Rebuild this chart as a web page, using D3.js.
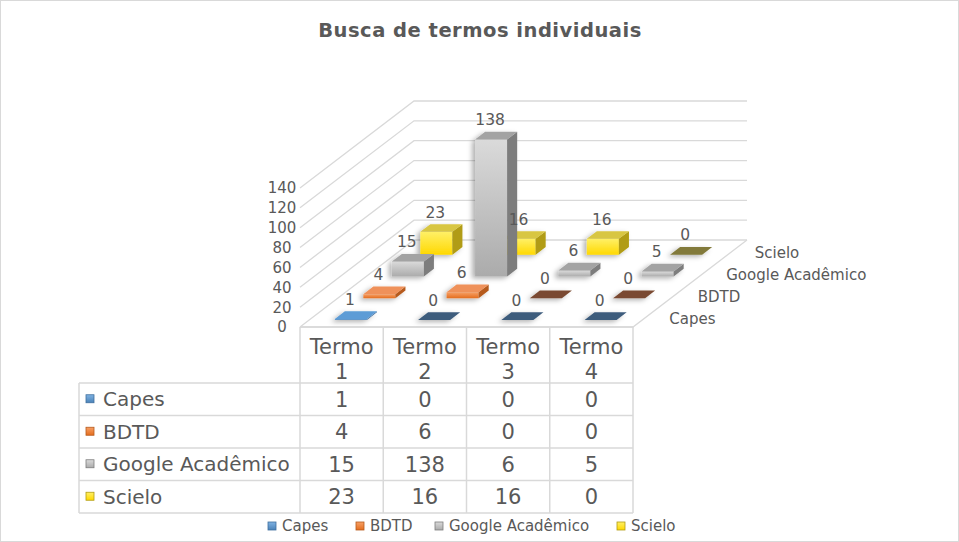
<!DOCTYPE html>
<html>
<head>
<meta charset="utf-8">
<script src="https://cdn.jsdelivr.net/npm/d3@7"></script>
<style>
  html, body { margin: 0; padding: 0; background: #fff; }
  svg { display: block; }
  text { font-family: "DejaVu Sans", Verdana, sans-serif; fill: #595959; }
</style>
</head>
<body>
<div id="chart"></div>
<script>
// ── Data ────────────────────────────────────────────────────────────────────
const categories = ["Termo 1", "Termo 2", "Termo 3", "Termo 4"];
const seriesNames = ["Capes", "BDTD", "Google Acadêmico", "Scielo"];
const capes = [1, 0, 0, 0];
const bdtd = [4, 6, 0, 0];
const google = [15, 138, 6, 5];
const scielo = [23, 16, 16, 0];
const yTicks = [0, 20, 40, 60, 80, 100, 120, 140];

const seriesValues = [capes, bdtd, google, scielo];

// ── Styles per series ───────────────────────────────────────────────────────
const palette = [
  { light: "#7fb2e2", dark: "#4a82b8", top: "#5d9cd6", side: "#3f6f9e", zero: "#3d5b7c" },
  { light: "#f7a066", dark: "#e46d1e", top: "#ef915a", side: "#b65a1c", zero: "#7a4a31" },
  { light: "#dadada", dark: "#ababab", top: "#a3a3a3", side: "#7d7d7d", zero: "#8d8d8d" },
  { light: "#fff066", dark: "#ffd800", top: "#d8c642", side: "#b19c12", zero: "#827a3a" },
];

const W = 959, H = 542;

const svg = d3.select("#chart").append("svg")
  .attr("width", W).attr("height", H);

const defs = svg.append("defs");

// soft outer shadow like the office 3D bars
const shadow = defs.append("filter").attr("id", "shadow")
  .attr("x", "-30%").attr("y", "-30%").attr("width", "160%").attr("height", "160%");
shadow.append("feDropShadow")
  .attr("dx", -3).attr("dy", 2).attr("stdDeviation", 2.5)
  .attr("flood-color", "#000").attr("flood-opacity", 0.3);

palette.forEach((p, i) => {
  const g = defs.append("linearGradient").attr("id", `front${i}`)
    .attr("x1", 0).attr("y1", 0).attr("x2", 0).attr("y2", 1);
  g.append("stop").attr("offset", "0%").attr("stop-color", p.light);
  g.append("stop").attr("offset", "100%").attr("stop-color", p.dark);
});

// outer frame
svg.append("rect")
  .attr("x", 0.5).attr("y", 0.5).attr("width", W - 1).attr("height", H - 1)
  .attr("fill", "#fff").attr("stroke", "#d9d9d9");

// ── Title ───────────────────────────────────────────────────────────────────
svg.append("text")
  .attr("x", 480).attr("y", 37)
  .attr("text-anchor", "middle")
  .attr("font-size", 19.5).attr("font-weight", "bold")
  .attr("letter-spacing", 0.5)
  .text("Busca de termos individuais");

// ── Scales & oblique projection ─────────────────────────────────────────────
const x = d3.scaleBand().domain(categories).range([300, 633]);
const y = d3.scaleLinear().domain([0, 140]).range([327, 188]);
const z = d3.scaleBand().domain(seriesNames).range([0, 1]);
const depth = { dx: 114, dy: -87 };

// screen position of a point at front-plane x, value v, depth t (0..1)
const P = (sx, v, t) => [sx + t * depth.dx, y(v) + t * depth.dy];
const poly = (pts) => pts.map((p) => p.join(",")).join(" ");

const grid = svg.append("g").attr("class", "walls")
  .attr("stroke", "#d9d9d9").attr("stroke-width", 1.3).attr("fill", "none");

// left wall + back wall gridlines
yTicks.forEach((v) => {
  const a = P(300, v, 0), b = P(300, v, 1), c = P(633, v, 1);
  grid.append("polyline").attr("points", poly([a, b, c]));
});
// floor front & right edges
grid.append("polyline").attr("points", poly([P(300, 0, 0), P(633, 0, 0), P(633, 0, 1)]));

// ── Value axis labels ───────────────────────────────────────────────────────
svg.append("g").selectAll("text")
  .data(yTicks)
  .join("text")
  .attr("x", 282)
  .attr("y", (d) => y(d))
  .attr("dy", "0.36em")
  .attr("text-anchor", "middle")
  .attr("font-size", 15)
  .text((d) => d);

// ── Series (depth) labels ───────────────────────────────────────────────────
svg.append("g").selectAll("text")
  .data(seriesNames)
  .join("text")
  .attr("x", (d) => P(633, 0, z(d) + z.bandwidth() / 2)[0] + 22)
  .attr("y", (d) => P(633, 0, z(d) + z.bandwidth() / 2)[1] + 2)
  .attr("dy", "0.36em")
  .attr("font-size", 15)
  .text((d) => d);

// ── Bars ────────────────────────────────────────────────────────────────────
const barW = x.bandwidth() * 0.385;
const barD = 0.088;

const bars = [];
seriesNames.forEach((s, si) => {
  categories.forEach((c, ci) => {
    bars.push({ s, si, c, ci, v: seriesValues[si][ci] });
  });
});

const barLayer = svg.append("g").attr("class", "bars").attr("filter", "url(#shadow)");

// back rows first so the front rows cover them
bars.slice().sort((a, b) => b.si - a.si).forEach((d) => {
  const p = palette[d.si];
  const cx = x(d.c) + x.bandwidth() / 2;
  const zc = z(d.s) + z.bandwidth() / 2;
  const z0 = zc - barD / 2, z1 = zc + barD / 2;
  const l = cx - barW / 2, r = cx + barW / 2;
  const g = barLayer.append("g");

  if (d.v === 0) {
    g.append("polygon")
      .attr("points", poly([P(l, 0, z0), P(r, 0, z0), P(r, 0, z1), P(l, 0, z1)]))
      .attr("fill", p.zero);
    return;
  }
  g.append("polygon")
    .attr("points", poly([P(l, 0, z0), P(r, 0, z0), P(r, d.v, z0), P(l, d.v, z0)]))
    .attr("fill", `url(#front${d.si})`);
  g.append("polygon")
    .attr("points", poly([P(r, 0, z0), P(r, 0, z1), P(r, d.v, z1), P(r, d.v, z0)]))
    .attr("fill", p.side);
  g.append("polygon")
    .attr("points", poly([P(l, d.v, z0), P(r, d.v, z0), P(r, d.v, z1), P(l, d.v, z1)]))
    .attr("fill", p.top);
});

// ── Data labels ─────────────────────────────────────────────────────────────
svg.append("g").selectAll("text")
  .data(bars)
  .join("text")
  .attr("x", (d) => P(x(d.c) + x.bandwidth() / 2, d.v, z(d.s) + z.bandwidth() / 2)[0] - 6)
  .attr("y", (d) => P(x(d.c) + x.bandwidth() / 2, d.v, z(d.s) + z.bandwidth() / 2)[1] - 16)
  .attr("dy", "0.36em")
  .attr("text-anchor", "middle")
  .attr("font-size", 15.5)
  .text((d) => d.v);

// ── Data table ──────────────────────────────────────────────────────────────
const tableLeft = 79, headTop = 327, headBottom = 383, rowH = 32.5;
const table = svg.append("g").attr("class", "table");
const tl = table.append("g").attr("stroke", "#d9d9d9").attr("stroke-width", 1.5).attr("fill", "none");

const tableBottom = headBottom + rowH * seriesNames.length;
// header columns
tl.append("line").attr("x1", 300).attr("x2", 633).attr("y1", headTop).attr("y2", headTop);
x.domain().concat([null]).forEach((c) => {
  const xx = c === null ? 633 : x(c);
  tl.append("line").attr("x1", xx).attr("x2", xx).attr("y1", headTop).attr("y2", tableBottom);
});
tl.append("line").attr("x1", tableLeft).attr("x2", tableLeft).attr("y1", headBottom).attr("y2", tableBottom);
d3.range(seriesNames.length + 1).forEach((i) => {
  const yy = headBottom + i * rowH;
  tl.append("line").attr("x1", tableLeft).attr("x2", 633).attr("y1", yy).attr("y2", yy);
});

// header text
categories.forEach((c) => {
  const [w1, w2] = c.split(" ");
  const cx = x(c) + x.bandwidth() / 2;
  const t = table.append("text")
    .attr("x", cx).attr("y", 354)
    .attr("text-anchor", "middle").attr("font-size", 21);
  t.append("tspan").attr("x", cx).text(w1);
  t.append("tspan").attr("x", cx).attr("dy", 24.5).text(w2);
});

// rows
seriesNames.forEach((s, si) => {
  const cy = headBottom + si * rowH + rowH / 2;
  table.append("rect")
    .attr("x", 86).attr("y", cy - 4.5).attr("width", 8).attr("height", 8)
    .attr("fill", `url(#front${si})`).attr("stroke", palette[si].side).attr("stroke-width", 0.8);
  table.append("text")
    .attr("x", 103).attr("y", cy).attr("dy", "0.36em")
    .attr("font-size", 20).text(s);
  categories.forEach((c, ci) => {
    table.append("text")
      .attr("x", x(c) + x.bandwidth() / 2).attr("y", cy).attr("dy", "0.36em")
      .attr("text-anchor", "middle").attr("font-size", 21)
      .text(seriesValues[si][ci]);
  });
});

// ── Legend ──────────────────────────────────────────────────────────────────
const legendX = [268, 356, 435, 617];
const legend = svg.append("g").attr("class", "legend");
seriesNames.forEach((s, si) => {
  legend.append("rect")
    .attr("x", legendX[si]).attr("y", 522).attr("width", 8).attr("height", 8)
    .attr("fill", `url(#front${si})`).attr("stroke", palette[si].side).attr("stroke-width", 0.8);
  legend.append("text")
    .attr("x", legendX[si] + 14).attr("y", 526).attr("dy", "0.36em")
    .attr("font-size", 15).text(s);
});
</script>
</body>
</html>
